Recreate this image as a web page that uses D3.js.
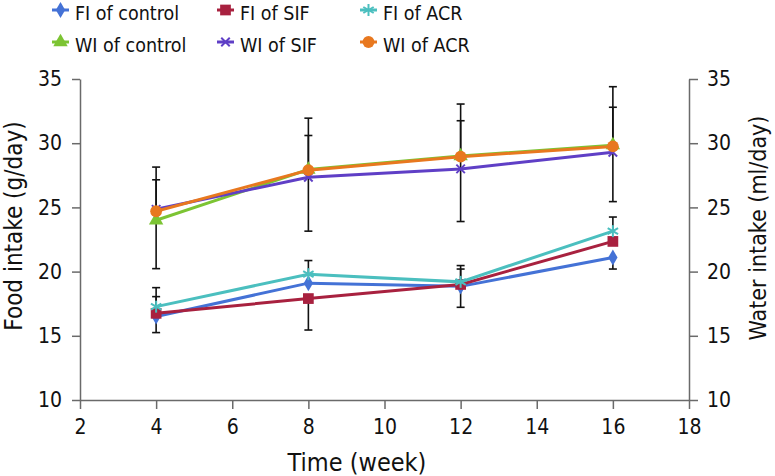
<!DOCTYPE html>
<html><head><meta charset="utf-8">
<script src="https://cdn.jsdelivr.net/npm/d3@7"></script>
<style>
body{margin:0;background:#fff}
svg{display:block}
text{font-family:"DejaVu Sans Condensed","DejaVu Sans",sans-serif;fill:#111}
</style></head><body>
<svg id="c" width="775" height="476"></svg>
<script>
// ---- data ----
const weeks = [4, 8, 12, 16];
const xTicks = [2, 4, 6, 8, 10, 12, 14, 16, 18];
const yTicks = [10, 15, 20, 25, 30, 35];
const seriesNames = ["FI of control", "FI of SIF", "FI of ACR", "WI of control", "WI of SIF", "WI of ACR"];
const fiControl = [16.5, 19.1, 18.85, 21.1];
const fiSIF     = [16.75, 17.9, 19.0, 22.35];
const fiACR     = [17.27, 19.8, 19.2, 23.15];
const wiControl = [24.0, 27.95, 29.0, 29.85];
const wiSIF     = [24.85, 27.35, 28.0, 29.3];
const wiACR     = [24.7, 27.9, 28.95, 29.75];
// error bar half-lengths (null = not shown)
const fiControlUp = [1.55, null, null, null], fiControlDown = [1.25, null, 1.63, 0.9];
const fiSIFUp     = [null, null, 1.2, null],  fiSIFDown     = [null, 2.45, null, null];
const fiACRUp     = [1.48, 1.06, 1.27, 1.1],  fiACRDown     = [null, null, null, null];
const wiControlUp = [4.14, null, null, null], wiControlDown = [3.77, null, null, null];
const wiSIFUp     = [null, 4.6, 5.05, 5.1],   wiSIFDown     = [null, 4.2, 4.1, 3.85];
const wiACRUp     = [2.45, 2.7, 2.8, 3.05],   wiACRDown     = [null, null, null, null];

const colors = ["#4472d6", "#a8213f", "#4bbfbf", "#7cc433", "#5f3fc6", "#e8781f"];
const shapes = ["diamond", "square", "asterisk", "triangle", "x", "circle"];

const series = [
  {values: fiControl, up: fiControlUp, down: fiControlDown},
  {values: fiSIF, up: fiSIFUp, down: fiSIFDown},
  {values: fiACR, up: fiACRUp, down: fiACRDown},
  {values: wiControl, up: wiControlUp, down: wiControlDown},
  {values: wiSIF, up: wiSIFUp, down: wiSIFDown},
  {values: wiACR, up: wiACRUp, down: wiACRDown}
].map((s, i) => ({...s, name: seriesNames[i], color: colors[i], shape: shapes[i]}));

// ---- layout ----
const svg = d3.select("#c");
const x = d3.scaleLinear().domain([2, 18]).range([80, 689]);
const y = d3.scaleLinear().domain([10, 35]).range([400, 79]);
const axisColor = "#6a6a6a";

function styleAxis(g){
  g.select(".domain").attr("stroke", axisColor).attr("stroke-width", 1.5);
  g.selectAll(".tick line").attr("stroke", axisColor).attr("stroke-width", 1.5);
  g.selectAll(".tick text").style("font-size", "21px").attr("fill", "#111");
}

svg.append("g").attr("transform", "translate(0,400)")
  .call(d3.axisBottom(x).tickValues(xTicks).tickSize(9).tickSizeOuter(0).tickPadding(10))
  .call(styleAxis);
svg.append("g").attr("transform", "translate(80,0)")
  .call(d3.axisLeft(y).tickValues(yTicks).tickSize(8).tickSizeOuter(0).tickPadding(10))
  .call(styleAxis);
svg.append("g").attr("transform", "translate(689,0)")
  .call(d3.axisRight(y).tickValues(yTicks).tickSize(9).tickSizeOuter(0).tickPadding(9))
  .call(styleAxis);

// axis titles
svg.append("text").attr("x", 357).attr("y", 471).attr("text-anchor", "middle")
  .style("font-size", "25px").text("Time (week)");
svg.append("text").attr("transform", `translate(14,226) rotate(-90)`)
  .attr("text-anchor", "middle").attr("dominant-baseline", "central")
  .style("font-size", "24px").text("Food intake (g/day)");
svg.append("text").attr("transform", `translate(758,228) rotate(-90)`)
  .attr("text-anchor", "middle").attr("dominant-baseline", "central")
  .style("font-size", "23px").text("Water intake (ml/day)");

// ---- error bars ----
const eb = svg.append("g").attr("stroke", "#111").attr("stroke-width", 1.6).attr("fill", "none");
const capW = 4;
series.forEach(s => {
  weeks.forEach((w, i) => {
    const v = s.values[i];
    const px = x(w);
    if (s.up[i] != null) {
      const yy = y(v + s.up[i]);
      eb.append("line").attr("x1", px).attr("x2", px).attr("y1", y(v)).attr("y2", yy);
      eb.append("line").attr("x1", px - capW).attr("x2", px + capW).attr("y1", yy).attr("y2", yy);
    }
    if (s.down[i] != null) {
      const yy = y(v - s.down[i]);
      eb.append("line").attr("x1", px).attr("x2", px).attr("y1", y(v)).attr("y2", yy);
      eb.append("line").attr("x1", px - capW).attr("x2", px + capW).attr("y1", yy).attr("y2", yy);
    }
  });
});

// ---- markers ----
function drawMarker(g, shape, cx, cy, color){
  if (shape === "asterisk" || shape === "x") {
    const r = 6;
    const angles = shape === "x" ? [45, 135] : [90, 30, 150];
    angles.forEach(a => {
      const rad = a * Math.PI / 180;
      g.append("line")
        .attr("x1", cx - r * Math.cos(rad)).attr("y1", cy - r * Math.sin(rad))
        .attr("x2", cx + r * Math.cos(rad)).attr("y2", cy + r * Math.sin(rad))
        .attr("stroke", color).attr("stroke-width", 2);
    });
    return;
  }
  const type = {diamond: d3.symbolDiamond, square: d3.symbolSquare, triangle: d3.symbolTriangle, circle: d3.symbolCircle}[shape];
  const size = {diamond: 75, square: 115, triangle: 90, circle: 110}[shape];
  g.append("path").attr("d", d3.symbol().type(type).size(size)())
    .attr("transform", `translate(${cx},${cy})`).attr("fill", color);
}

const line = d3.line().x(d => x(d[0])).y(d => y(d[1]));
series.forEach(s => {
  const g = svg.append("g");
  g.append("path").datum(weeks.map((w, i) => [w, s.values[i]]))
    .attr("d", line).attr("fill", "none").attr("stroke", s.color).attr("stroke-width", 3);
  weeks.forEach((w, i) => drawMarker(g, s.shape, x(w), y(s.values[i]), s.color));
});

// ---- legend ----
const legX = [52, 217, 360];
const legY = [10, 42];
series.forEach((s, i) => {
  const col = i % 3, row = Math.floor(i / 3);
  const lx = legX[col], ly = legY[row];
  const g = svg.append("g");
  g.append("line").attr("x1", lx).attr("x2", lx + 17).attr("y1", ly).attr("y2", ly)
    .attr("stroke", s.color).attr("stroke-width", 3);
  drawMarker(g, s.shape, lx + 8.5, ly, s.color);
  g.append("text").attr("x", lx + 23).attr("y", ly + 10).style("font-size", "19.5px").text(s.name);
});
</script>
</body></html>
